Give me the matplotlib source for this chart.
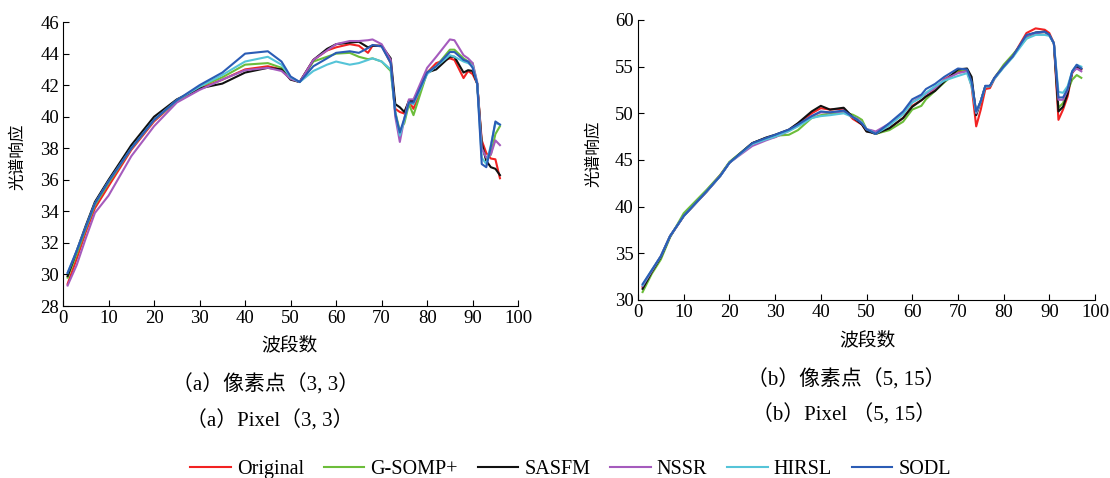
import matplotlib
matplotlib.use("Agg")
from matplotlib import pyplot as plt

# ---- data: pixel (3,3) ----
bands_a = [1, 3, 5, 7, 10, 15, 20, 25, 30, 35, 40, 45, 48, 50, 52, 55, 58, 60, 63, 65, 67,
           68, 70, 72, 73, 74, 75, 76, 77, 80, 82, 85, 86, 88, 89, 90, 91, 92, 93, 94, 95, 96]
orig_a = [29.4, 31.0, 32.7, 34.2, 35.6, 37.9, 39.7, 41.0, 41.8, 42.35, 43.0, 43.2, 43.0, 42.4,
          42.2, 43.6, 44.2, 44.4, 44.6, 44.5, 44.05, 44.5, 44.5, 43.4, 40.5, 40.3, 40.2, 41.0,
          40.5, 42.8, 43.4, 43.7, 43.6, 42.45, 42.9, 42.7, 42.1, 38.5, 37.7, 37.35, 37.3, 36.1]
gsomp_a = [29.8, 31.3, 32.9, 34.4, 35.8, 38.0, 39.8, 41.0, 41.9, 42.5, 43.3, 43.4, 43.1, 42.4,
           42.2, 43.5, 43.8, 44.0, 44.05, 43.8, 43.65, 43.7, 43.5, 42.9, 40.3, 39.1, 39.6, 40.8,
           40.1, 42.8, 43.2, 44.25, 44.25, 43.7, 43.5, 43.4, 42.1, 38.2, 37.3, 37.6, 38.9, 39.4]
sasfm_a = [29.9, 31.5, 33.1, 34.6, 36.0, 38.2, 40.0, 41.1, 41.8, 42.1, 42.8, 43.1, 43.0, 42.35,
           42.2, 43.6, 44.3, 44.6, 44.7, 44.75, 44.4, 44.5, 44.5, 43.7, 40.8, 40.6, 40.3, 41.0,
           41.0, 42.8, 43.0, 43.8, 43.8, 42.8, 42.95, 42.9, 42.1, 38.3, 37.2, 36.8, 36.7, 36.3]
nssr_a = [29.3, 30.6, 32.3, 33.9, 35.0, 37.5, 39.4, 40.9, 41.7, 42.35, 42.95, 43.1, 42.9, 42.4,
          42.2, 43.6, 44.2, 44.6, 44.8, 44.8, 44.85, 44.9, 44.6, 43.6, 40.0, 38.4, 39.9, 41.1,
          41.1, 43.1, 43.8, 44.9, 44.85, 43.9, 43.7, 43.4, 42.2, 38.0, 37.4, 37.6, 38.5, 38.2]
hirsl_a = [30.1, 31.5, 33.0, 34.5, 35.9, 38.0, 39.8, 41.05, 41.9, 42.65, 43.5, 43.8, 43.3, 42.5,
           42.2, 42.9, 43.3, 43.5, 43.3, 43.4, 43.6, 43.7, 43.5, 43.0, 40.3, 38.8, 39.8, 40.9,
           40.8, 42.7, 43.2, 43.9, 43.8, 43.5, 43.4, 43.2, 42.1, 37.4, 37.0, 38.2, 39.6, 39.5]
sodl_a = [30.1, 31.5, 33.0, 34.5, 35.9, 38.0, 39.8, 41.05, 42.0, 42.8, 44.0, 44.15, 43.5, 42.55,
          42.2, 43.2, 43.7, 44.05, 44.15, 44.05, 44.35, 44.55, 44.45, 43.4, 40.2, 39.0, 39.9, 40.9,
          40.9, 42.8, 43.2, 44.1, 44.1, 43.6, 43.5, 43.1, 42.1, 37.0, 36.8, 38.1, 39.7, 39.5]

# ---- data: pixel (5,15) ----
bands_b = [1, 3, 5, 7, 10, 15, 18, 20, 25, 28, 30, 33, 35, 38, 40, 42, 45, 47, 48, 49, 50, 51,
           52, 55, 58, 60, 62, 63, 65, 67, 70, 72, 73, 74, 75, 76, 77, 78, 80, 82, 85, 87, 89,
           90, 91, 92, 93, 94, 95, 96, 97]
orig_b = [31.4, 33.1, 34.7, 36.85, 39.0, 41.7, 43.4, 44.7, 46.8, 47.35, 47.45, 48.2, 48.9,
          50.0, 50.55, 50.4, 50.5, 49.4, 49.1, 48.8, 48.1, 48.0, 47.8, 48.4, 49.5, 50.8, 51.4,
          51.8, 52.5, 53.65, 54.45, 54.6, 52.9, 48.6, 50.4, 52.6, 52.7, 53.7, 55.0, 56.1, 58.6,
          59.1, 58.95, 58.6, 57.5, 49.3, 50.4, 51.8, 54.3, 55.0, 54.7]
gsomp_b = [30.85, 32.8, 34.35, 36.7, 39.3, 41.8, 43.4, 44.8, 46.8, 47.35, 47.6, 47.7, 48.2,
           49.5, 49.8, 50.0, 50.1, 49.85, 49.6, 49.3, 48.3, 48.0, 47.8, 48.2, 49.1, 50.4, 50.8,
           51.5, 52.4, 53.3, 54.6, 54.7, 53.4, 50.1, 51.3, 52.9, 52.9, 53.8, 55.2, 56.3, 58.0,
           58.6, 58.7, 58.4, 57.5, 50.6, 51.1, 52.4, 53.6, 54.1, 53.8]
sasfm_b = [31.2, 33.0, 34.6, 36.8, 39.0, 41.6, 43.3, 44.7, 46.8, 47.4, 47.7, 48.25, 48.95,
           50.2, 50.8, 50.4, 50.6, 49.6, 49.2, 48.8, 48.05, 47.95, 47.8, 48.4, 49.5, 50.7, 51.4,
           51.8, 52.4, 53.4, 54.7, 54.8, 53.9, 49.8, 51.3, 52.9, 52.9, 53.8, 55.0, 56.1, 58.3,
           58.65, 58.75, 58.4, 57.5, 50.2, 50.7, 52.1, 54.4, 55.0, 54.8]
nssr_b = [31.5, 33.1, 34.7, 36.8, 39.0, 41.6, 43.3, 44.7, 46.5, 47.1, 47.45, 48.1, 48.7,
          49.7, 50.1, 50.1, 50.2, 49.6, 49.4, 49.0, 48.3, 48.2, 48.05, 48.9, 50.0, 51.2, 51.8,
          52.1, 52.7, 53.6, 54.3, 54.5, 53.2, 50.0, 51.3, 52.9, 52.9, 53.8, 55.0, 56.1, 58.3,
          58.6, 58.7, 58.4, 57.5, 51.45, 51.45, 52.5, 54.4, 54.8, 54.5]
hirsl_b = [31.6, 33.2, 34.7, 36.85, 39.0, 41.65, 43.3, 44.7, 46.7, 47.2, 47.5, 48.1, 48.6,
           49.5, 49.7, 49.8, 50.0, 49.6, 49.3, 49.0, 48.3, 48.1, 47.8, 48.7, 49.9, 51.15, 51.7,
           52.2, 52.9, 53.5, 54.0, 54.3, 52.9, 50.1, 51.3, 52.9, 52.9, 53.7, 54.9, 56.0, 58.0,
           58.4, 58.4, 58.3, 57.5, 52.3, 52.2, 52.9, 54.5, 55.2, 55.0]
sodl_b = [31.7, 33.2, 34.7, 36.85, 39.0, 41.65, 43.3, 44.7, 46.8, 47.35, 47.7, 48.25, 48.8,
          49.7, 50.2, 50.1, 50.3, 49.6, 49.3, 48.9, 48.3, 48.05, 47.8, 48.95, 50.2, 51.5, 52.0,
          52.6, 53.15, 53.9, 54.8, 54.7, 53.4, 50.2, 51.3, 52.95, 52.95, 53.8, 55.0, 56.1, 58.4,
          58.65, 58.75, 58.4, 57.5, 51.7, 51.7, 52.6, 54.5, 55.2, 54.8]

names = ["Original", "G-SOMP+", "SASFM", "NSSR", "HIRSL", "SODL"]
colors = ["#f22222", "#6cbd3a", "#111111", "#a55bbd", "#55c4d8", "#2b5cb5"]

serif = ["Liberation Serif", "DejaVu Serif"]
cjk = ["Liberation Serif", "Noto Sans CJK SC"]


def main():
    fig = plt.figure(figsize=(11.1, 4.78), dpi=100)
    ax1 = fig.add_axes([0.0568, 0.3598, 0.41, 0.594])
    ax2 = fig.add_axes([0.5748, 0.3724, 0.4117, 0.5858])

    series_a = [orig_a, gsomp_a, sasfm_a, nssr_a, hirsl_a, sodl_a]
    series_b = [orig_b, gsomp_b, sasfm_b, nssr_b, hirsl_b, sodl_b]
    lines = []
    for name, c, ya, yb in zip(names, colors, series_a, series_b):
        (ln,) = ax1.plot(bands_a, ya, color=c, lw=1.5, label=name)
        ax2.plot(bands_b, yb, color=c, lw=1.5)
        lines.append(ln)

    ax1.set_xlim(0, 99)
    ax1.set_ylim(28, 46)
    ax1.set_yticks(range(28, 47, 2))
    ax2.set_xlim(0, 100)
    ax2.set_ylim(30, 60)
    ax2.set_yticks(range(30, 61, 5))
    for ax in (ax1, ax2):
        ax.set_xticks(range(0, 101, 10))
        ax.spines["top"].set_visible(False)
        ax.spines["right"].set_visible(False)
        ax.tick_params(direction="in", length=4, labelsize=13.5, pad=3)
        for lab in ax.get_xticklabels() + ax.get_yticklabels():
            lab.set_family(serif)

    # axis titles
    fig.text(0.016, 0.672, "光谱响应", rotation=90, ha="center", va="center",
             family="Noto Sans CJK SC", fontsize=12)
    fig.text(0.535, 0.678, "光谱响应", rotation=90, ha="center", va="center",
             family="Noto Sans CJK SC", fontsize=12)
    fig.text(0.261, 0.278, "波段数", ha="center", va="center",
             family="Noto Sans CJK SC", fontsize=13.5)
    fig.text(0.781, 0.289, "波段数", ha="center", va="center",
             family="Noto Sans CJK SC", fontsize=13.5)

    # captions
    fig.text(0.239, 0.195, "（a）像素点（3, 3）", ha="center", va="center",
             family=cjk, fontsize=15)
    fig.text(0.243, 0.119, "（a）Pixel（3, 3）", ha="center", va="center",
             family=cjk, fontsize=15)
    fig.text(0.762, 0.205, "（b）像素点（5, 15）", ha="center", va="center",
             family=cjk, fontsize=15)
    fig.text(0.760, 0.132, "（b）Pixel （5, 15）", ha="center", va="center",
             family=cjk, fontsize=15)

    fig.legend(handles=lines, loc="center", bbox_to_anchor=(0.514, 0.018), ncol=6,
               frameon=False, handlelength=2.0, handletextpad=0.3, columnspacing=1.0,
               borderpad=0.0, prop={"family": serif, "size": 14.5})

    fig.savefig("out.png", dpi=100)


if __name__ == "__main__":
    main()
